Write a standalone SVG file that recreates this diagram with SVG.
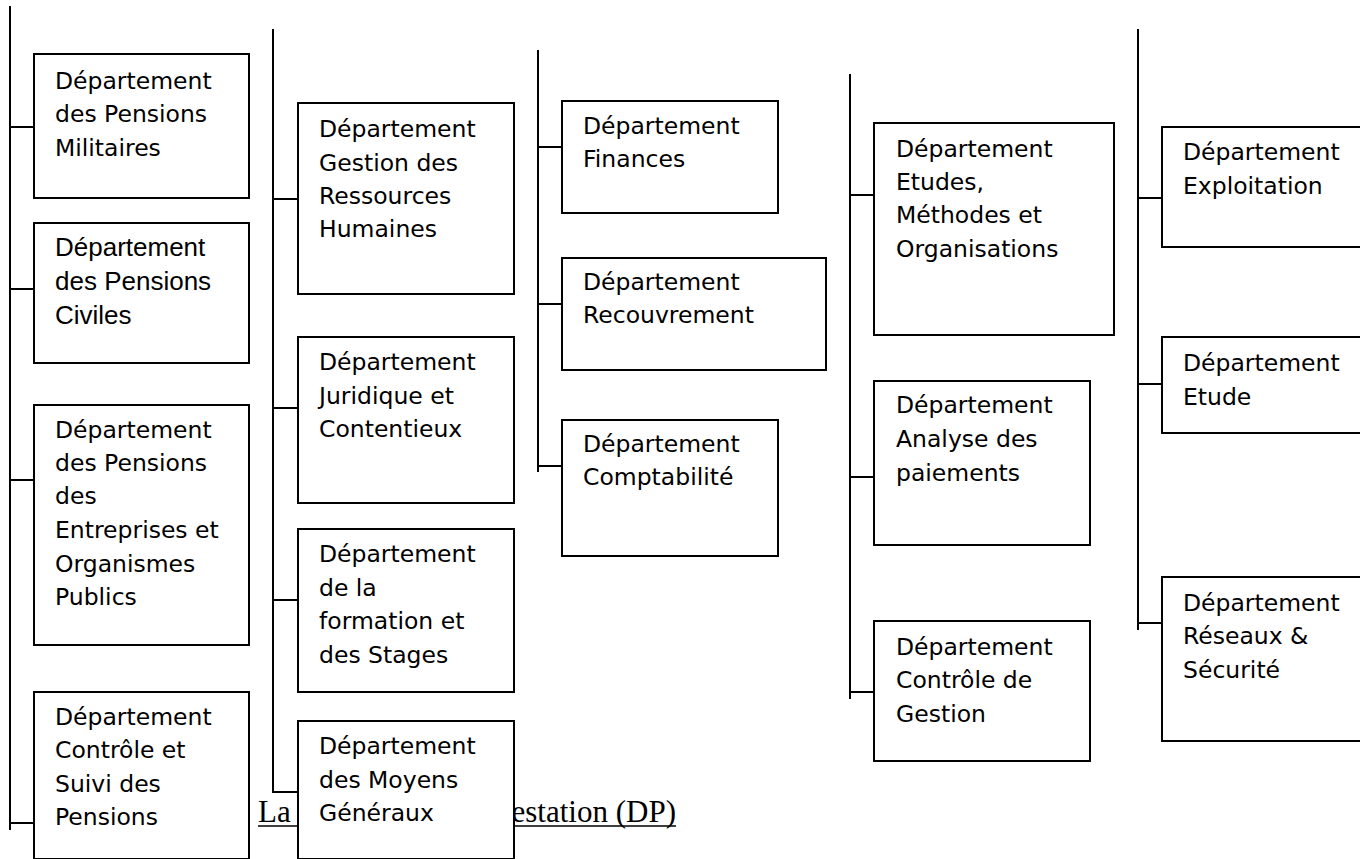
<svg xmlns="http://www.w3.org/2000/svg" width="1360" height="859" viewBox="0 0 1360 859">
<style>
.bg{fill:#fff}
.box{fill:#fff;stroke:#000;stroke-width:2}
.ln{stroke:#000;stroke-width:2;fill:none}
.t{font-family:"DejaVu Sans",Verdana,sans-serif;font-size:23.5px;fill:#000}
.ta{font-family:"Liberation Sans",Arial,sans-serif;font-size:26px;fill:#000}
.cap{font-family:"Liberation Serif","Times New Roman",serif;font-size:31px;fill:#000}
</style>
<rect class="bg" x="0" y="0" width="1360" height="859"/>
<g id="connectors">
<line class="ln" x1="10" y1="6" x2="10" y2="830"/>
<line class="ln" x1="10" y1="127" x2="34" y2="127"/>
<line class="ln" x1="10" y1="289" x2="34" y2="289"/>
<line class="ln" x1="10" y1="480" x2="34" y2="480"/>
<line class="ln" x1="10" y1="823" x2="37" y2="823"/>
<line class="ln" x1="273" y1="29" x2="273" y2="793"/>
<line class="ln" x1="273" y1="199" x2="298" y2="199"/>
<line class="ln" x1="273" y1="408" x2="298" y2="408"/>
<line class="ln" x1="273" y1="600" x2="298" y2="600"/>
<line class="ln" x1="273" y1="792" x2="298" y2="792"/>
<line class="ln" x1="538" y1="50" x2="538" y2="472"/>
<line class="ln" x1="538" y1="147" x2="562" y2="147"/>
<line class="ln" x1="538" y1="304" x2="562" y2="304"/>
<line class="ln" x1="538" y1="466" x2="562" y2="466"/>
<line class="ln" x1="850" y1="74" x2="850" y2="699"/>
<line class="ln" x1="850" y1="195" x2="874" y2="195"/>
<line class="ln" x1="850" y1="477" x2="874" y2="477"/>
<line class="ln" x1="850" y1="692" x2="874" y2="692"/>
<line class="ln" x1="1138" y1="29" x2="1138" y2="630"/>
<line class="ln" x1="1138" y1="198" x2="1162" y2="198"/>
<line class="ln" x1="1138" y1="384" x2="1162" y2="384"/>
<line class="ln" x1="1138" y1="623" x2="1162" y2="623"/>
</g>
<g id="caption">
<text class="cap" x="258" y="822">La</text>
<text class="cap" x="676" y="822" text-anchor="end">estation (DP)</text>
<line x1="258" y1="826" x2="676" y2="826" stroke="#000" stroke-width="1.5"/>
</g>
<g id="n-militaires">
<rect class="box" x="34" y="54" width="215" height="144"/>
<text class="t" x="55"><tspan x="55" y="89">Département</tspan><tspan x="55" y="122">des Pensions</tspan><tspan x="55" y="156">Militaires</tspan></text>
</g>
<g id="n-civiles">
<rect class="box" x="34" y="223" width="215" height="140"/>
<text class="ta" x="55"><tspan x="55" y="256">Département</tspan><tspan x="55" y="290">des Pensions</tspan><tspan x="55" y="324">Civiles</tspan></text>
</g>
<g id="n-entreprises">
<rect class="box" x="34" y="405" width="215" height="240"/>
<text class="t" x="55"><tspan x="55" y="438">Département</tspan><tspan x="55" y="471">des Pensions</tspan><tspan x="55" y="504">des</tspan><tspan x="55" y="538">Entreprises et</tspan><tspan x="55" y="572">Organismes</tspan><tspan x="55" y="605">Publics</tspan></text>
</g>
<g id="n-controle-suivi">
<rect class="box" x="34" y="692" width="215" height="167"/>
<text class="t" x="55"><tspan x="55" y="725">Département</tspan><tspan x="55" y="758">Contrôle et</tspan><tspan x="55" y="792">Suivi des</tspan><tspan x="55" y="825">Pensions</tspan></text>
</g>
<g id="n-grh">
<rect class="box" x="298" y="103" width="216" height="191"/>
<text class="t" x="319"><tspan x="319" y="137">Département</tspan><tspan x="319" y="171">Gestion des</tspan><tspan x="319" y="204">Ressources</tspan><tspan x="319" y="237">Humaines</tspan></text>
</g>
<g id="n-juridique">
<rect class="box" x="298" y="337" width="216" height="166"/>
<text class="t" x="319"><tspan x="319" y="370">Département</tspan><tspan x="319" y="404">Juridique et</tspan><tspan x="319" y="437">Contentieux</tspan></text>
</g>
<g id="n-formation">
<rect class="box" x="298" y="529" width="216" height="163"/>
<text class="t" x="319"><tspan x="319" y="562">Département</tspan><tspan x="319" y="596">de la</tspan><tspan x="319" y="629">formation et</tspan><tspan x="319" y="663">des Stages</tspan></text>
</g>
<g id="n-moyens">
<rect class="box" x="298" y="721" width="216" height="138"/>
<text class="t" x="319"><tspan x="319" y="754">Département</tspan><tspan x="319" y="788">des Moyens</tspan><tspan x="319" y="821">Généraux</tspan></text>
</g>
<g id="n-finances">
<rect class="box" x="562" y="101" width="216" height="112"/>
<text class="t" x="583"><tspan x="583" y="134">Département</tspan><tspan x="583" y="167">Finances</tspan></text>
</g>
<g id="n-recouvrement">
<rect class="box" x="562" y="258" width="264" height="112"/>
<text class="t" x="583"><tspan x="583" y="290">Département</tspan><tspan x="583" y="323">Recouvrement</tspan></text>
</g>
<g id="n-comptabilite">
<rect class="box" x="562" y="420" width="216" height="136"/>
<text class="t" x="583"><tspan x="583" y="452">Département</tspan><tspan x="583" y="485">Comptabilité</tspan></text>
</g>
<g id="n-etudes">
<rect class="box" x="874" y="123" width="240" height="212"/>
<text class="t" x="896"><tspan x="896" y="157">Département</tspan><tspan x="896" y="190">Etudes,</tspan><tspan x="896" y="223">Méthodes et</tspan><tspan x="896" y="257">Organisations</tspan></text>
</g>
<g id="n-analyse">
<rect class="box" x="874" y="381" width="216" height="164"/>
<text class="t" x="896"><tspan x="896" y="413">Département</tspan><tspan x="896" y="447">Analyse des</tspan><tspan x="896" y="481">paiements</tspan></text>
</g>
<g id="n-controle-gestion">
<rect class="box" x="874" y="621" width="216" height="140"/>
<text class="t" x="896"><tspan x="896" y="655">Département</tspan><tspan x="896" y="688">Contrôle de</tspan><tspan x="896" y="722">Gestion</tspan></text>
</g>
<g id="n-exploitation">
<rect class="box" x="1162" y="127" width="210" height="120"/>
<text class="t" x="1183"><tspan x="1183" y="160">Département</tspan><tspan x="1183" y="194">Exploitation</tspan></text>
</g>
<g id="n-etude">
<rect class="box" x="1162" y="337" width="210" height="96"/>
<text class="t" x="1183"><tspan x="1183" y="371">Département</tspan><tspan x="1183" y="405">Etude</tspan></text>
</g>
<g id="n-reseaux">
<rect class="box" x="1162" y="577" width="210" height="164"/>
<text class="t" x="1183"><tspan x="1183" y="611">Département</tspan><tspan x="1183" y="644">Réseaux &amp;</tspan><tspan x="1183" y="678">Sécurité</tspan></text>
</g>
</svg>
